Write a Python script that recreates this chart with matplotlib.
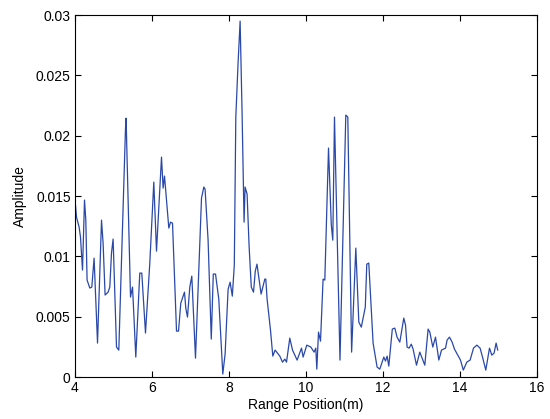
import matplotlib
matplotlib.use("Agg")
import matplotlib.pyplot as plt

position_m = [
    4.000, 4.044, 4.112, 4.148, 4.200, 4.252, 4.286, 4.319, 4.390, 4.442,
    4.501, 4.590, 4.694, 4.735, 4.787, 4.865, 4.909, 4.953, 4.995, 5.083,
    5.143, 5.317, 5.332, 5.447, 5.499, 5.532, 5.584, 5.688, 5.740, 5.836,
    5.948, 6.052, 6.122, 6.252, 6.294, 6.330, 6.382, 6.442, 6.486, 6.538,
    6.642, 6.694, 6.753, 6.849, 6.883, 6.927, 6.987, 7.039, 7.135, 7.291,
    7.351, 7.384, 7.462, 7.545, 7.597, 7.655, 7.740, 7.844, 7.904, 7.982,
    8.034, 8.091, 8.143, 8.182, 8.242, 8.294, 8.345, 8.397, 8.423, 8.475,
    8.527, 8.584, 8.642, 8.688, 8.732, 8.839, 8.935, 8.961, 8.995, 9.083,
    9.143, 9.203, 9.265, 9.325, 9.395, 9.455, 9.499, 9.584, 9.655, 9.714,
    9.774, 9.888, 9.930, 10.026, 10.130, 10.216, 10.260, 10.286, 10.330, 10.382,
    10.449, 10.494, 10.590, 10.662, 10.701, 10.745, 10.888, 11.039, 11.091, 11.190,
    11.299, 11.377, 11.442, 11.545, 11.584, 11.636, 11.748, 11.852, 11.922, 12.026,
    12.070, 12.112, 12.156, 12.247, 12.312, 12.371, 12.442, 12.545, 12.590, 12.631,
    12.683, 12.740, 12.787, 12.875, 12.961, 13.021, 13.091, 13.177, 13.221, 13.299,
    13.369, 13.455, 13.525, 13.629, 13.670, 13.732, 13.800, 13.862, 13.948, 14.018,
    14.091, 14.182, 14.268, 14.356, 14.442, 14.527, 14.590, 14.675, 14.771, 14.831,
    14.891, 14.943, 14.985,
]

amplitude_e3 = [
    14.92, 13.26, 12.43, 11.60, 8.87, 14.67, 13.01, 8.04, 7.38, 7.46,
    9.86, 2.82, 13.01, 11.10, 6.80, 7.04, 7.46, 10.28, 11.44, 2.49,
    2.24, 20.63, 21.46, 6.63, 7.46, 5.30, 1.66, 8.62, 8.62, 3.65,
    9.45, 16.16, 10.44, 18.23, 15.66, 16.66, 14.67, 12.35, 12.84, 12.76,
    3.81, 3.81, 6.13, 7.04, 5.72, 4.97, 7.46, 8.37, 1.57, 14.83,
    15.75, 15.58, 11.35, 3.15, 8.54, 8.54, 6.46, 0.25, 1.91, 7.29,
    7.87, 6.71, 9.28, 21.55, 26.10, 29.50, 21.88, 12.84, 15.75, 15.17,
    10.86, 7.46, 7.04, 8.78, 9.36, 6.88, 8.12, 8.12, 6.46, 3.89,
    1.74, 2.24, 1.99, 1.74, 1.24, 1.49, 1.24, 3.23, 2.24, 1.82,
    1.41, 2.40, 1.66, 2.65, 2.49, 2.07, 2.40, 0.66, 3.73, 2.98,
    8.12, 8.04, 18.98, 12.60, 11.35, 21.55, 1.41, 21.71, 21.55, 2.07,
    10.69, 4.56, 4.14, 5.80, 9.36, 9.45, 2.82, 0.83, 0.66, 1.66,
    1.33, 1.74, 0.91, 3.98, 4.06, 3.31, 2.90, 4.89, 4.31, 2.49,
    2.40, 2.73, 2.32, 0.99, 2.07, 1.57, 0.99, 3.98, 3.73, 2.49,
    3.31, 1.41, 2.24, 2.40, 3.07, 3.31, 2.90, 2.32, 1.82, 1.41,
    0.58, 1.24, 1.41, 2.40, 2.65, 2.40, 1.66, 0.58, 2.40, 1.82,
    1.99, 2.82, 2.24,
]
amplitude = [v / 1000.0 for v in amplitude_e3]

x_ticks = [4, 6, 8, 10, 12, 14, 16]
y_ticks = [0, 0.005, 0.01, 0.015, 0.02, 0.025, 0.03]
y_tick_labels = ["0", "0.005", "0.01", "0.015", "0.02", "0.025", "0.03"]

plt.rcParams["font.family"] = ["Liberation Sans", "DejaVu Sans"]

fig = plt.figure(figsize=(5.5, 4.19), dpi=100)
ax = fig.add_axes([0.136, 0.100, 0.840, 0.864])
ax.plot(position_m, amplitude, color="#2a48a8", linewidth=0.9)

ax.set_xlim(4, 16)
ax.set_ylim(0, 0.03)
ax.set_xticks(x_ticks)
ax.set_xticklabels([str(t) for t in x_ticks])
ax.set_yticks(y_ticks)
ax.set_yticklabels(y_tick_labels)
ax.tick_params(direction="in", top=True, right=True, length=4, width=0.8,
               labelsize=10, pad=3)
for s in ax.spines.values():
    s.set_linewidth(0.8)
ax.set_xlabel("Range Position(m)", fontsize=10, labelpad=2)
ax.set_ylabel("Amplitude", fontsize=10, labelpad=6)

fig.savefig("out.png", dpi=100)
